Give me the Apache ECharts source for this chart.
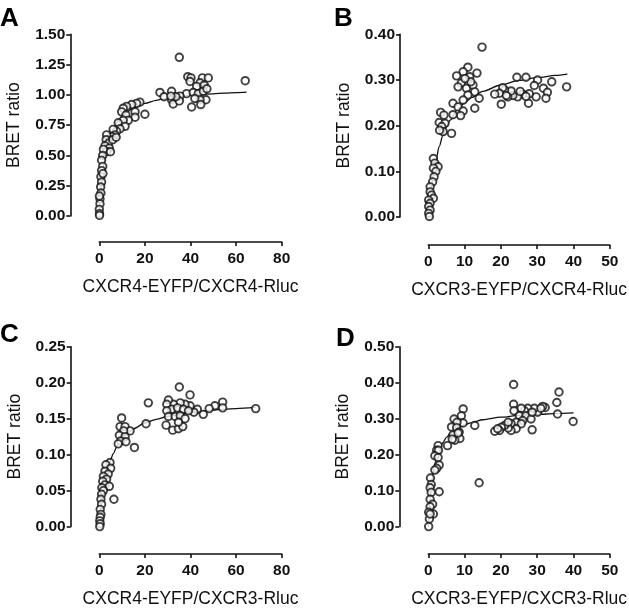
<!DOCTYPE html>
<html><head><meta charset="utf-8">
<script src="https://cdn.jsdelivr.net/npm/echarts@6/dist/echarts.min.js"></script>
<style>html,body{margin:0;padding:0;background:#fff}#c{width:629px;height:609px}</style>
</head><body><div id="c"></div>
<script>
// Panel A: CXCR4-EYFP / CXCR4-Rluc
const aX = [35.1, 64.0, 38.8, 40.2, 39.8, 45.2, 47.8, 44.2, 42.7, 46.0, 38.3, 41.2, 43.4, 45.6, 46.8, 44.2, 40.5, 44.5, 41.9, 47.2, 26.6, 28.4, 31.7, 31.7, 32.4, 35.4, 35.1, 33.6, 31.4, 17.8, 16.4, 20.0, 14.2, 12.0, 10.5, 9.8, 11.7, 15.7, 15.7, 12.7, 10.5, 8.3, 11.3, 9.1, 7.6, 6.1, 6.9, 5.4, 3.2, 3.0, 4.0, 2.5, 4.4, 3.2, 1.8, 4.9, 5.9, 7.4, 1.5, 1.0, 1.5, 1.0, 0.7, 1.0, 0.6, 0.7, 0.3, 0.3, 0.0, 0.1, 0.1, 1.6, 0.05];
const aY = [1.31, 1.117, 1.15, 1.14, 1.11, 1.14, 1.14, 1.10, 1.07, 1.08, 1.01, 1.02, 1.01, 1.03, 0.96, 0.96, 0.90, 0.92, 0.97, 1.05, 1.02, 0.985, 1.03, 0.96, 0.925, 0.99, 0.95, 0.985, 0.99, 0.94, 0.93, 0.84, 0.92, 0.905, 0.89, 0.86, 0.834, 0.86, 0.815, 0.79, 0.79, 0.77, 0.74, 0.72, 0.70, 0.715, 0.67, 0.655, 0.67, 0.63, 0.60, 0.58, 0.56, 0.53, 0.55, 0.53, 0.63, 0.65, 0.50, 0.46, 0.41, 0.375, 0.325, 0.28, 0.24, 0.19, 0.14, 0.10, 0.055, 0.02, 0.005, 0.35, 0.165];
const aFitX = [0, 0.5, 1, 1.5, 2, 3, 4, 5, 6, 8, 10, 12, 15, 20, 25, 30, 35, 40, 45, 50, 55, 60, 64.6];
const aFitY = [0, 0.153, 0.268, 0.357, 0.428, 0.535, 0.611, 0.669, 0.713, 0.778, 0.823, 0.856, 0.892, 0.930, 0.955, 0.973, 0.986, 0.995, 1.003, 1.009, 1.015, 1.019, 1.023];

// Panel B: CXCR3-EYFP / CXCR4-Rluc
const bX = [14.8, 38.1, 34.0, 24.4, 26.9, 30.1, 29.2, 31.7, 32.8, 32.4, 29.7, 27.6, 27.8, 26.0, 24.6, 23.3, 21.9, 22.8, 21.0, 20.5, 19.6, 18.3, 20.1, 25.3, 26.9, 21.5,
  10.9, 9.6, 7.8, 13.4, 11.4, 9.1, 8.2, 10.5, 12.3, 12.8, 10.9, 14.0, 9.6, 6.8, 8.2, 9.6, 8.9, 6.8, 12.8, 11.7, 10.1,
  3.4, 4.3, 3.0, 4.6, 3.7, 4.1, 6.4, 3.1,
  1.4, 1.8, 2.7, 1.4, 2.1, 1.6, 1.2, 0.5, 0.5, 0.9, 1.4, 0.1, 0.5, 0.1, 0.5, 0.1, 0.3];
const bY = [0.372, 0.285, 0.296, 0.306, 0.306, 0.30, 0.288, 0.282, 0.273, 0.26, 0.263, 0.249, 0.27, 0.269, 0.263, 0.266, 0.263, 0.276, 0.278, 0.283, 0.271, 0.269, 0.247, 0.275, 0.264, 0.266,
  0.328, 0.318, 0.309, 0.315, 0.307, 0.293, 0.285, 0.282, 0.289, 0.274, 0.267, 0.26, 0.256, 0.249, 0.241, 0.232, 0.222, 0.224, 0.238, 0.296, 0.303,
  0.229, 0.223, 0.207, 0.205, 0.198, 0.187, 0.183, 0.19,
  0.128, 0.118, 0.11, 0.107, 0.10, 0.088, 0.077, 0.066, 0.055, 0.048, 0.041, 0.037, 0.03, 0.023, 0.015, 0.008, 0.001];
const bFitX = [0, 0.5, 1, 1.5, 2, 3, 4, 5, 6, 8, 10, 12, 15, 20, 25, 30, 35, 38.3];
const bFitY = [0, 0.041, 0.073, 0.099, 0.120, 0.154, 0.178, 0.197, 0.212, 0.235, 0.250, 0.262, 0.275, 0.289, 0.299, 0.305, 0.310, 0.313];

// Panel C: CXCR4-EYFP / CXCR3-Rluc
const cX = [68.6, 35.1, 39.8, 21.5, 54.1, 54.1, 50.7, 48.2, 45.6, 43.0, 41.5, 39.8, 37.6, 35.5, 32.5, 30.3, 29.6, 31.8, 34.3, 36.9, 39.1, 29.6, 30.3, 33.3, 35.5, 37.6, 29.3, 32.2, 34.7, 36.6, 34.7,
  9.8, 9.1, 11.3, 13.5, 10.7, 8.8, 11.3, 9.4, 11.7, 8.3, 15.4, 20.5,
  4.7, 2.9, 5.0, 2.5, 3.9, 1.8, 3.2, 1.5, 2.5, 4.4, 1.1, 6.4, 1.8, 1.0, 0.7, 1.0, 0.4, 0.7, 0.4, 0.2, 0.4, 0.2];
const cY = [0.164, 0.194, 0.183, 0.172, 0.173, 0.165, 0.168, 0.164, 0.156, 0.163, 0.159, 0.168, 0.170, 0.172, 0.170, 0.176, 0.170, 0.163, 0.165, 0.163, 0.161, 0.161, 0.153, 0.153, 0.154, 0.150, 0.141, 0.134, 0.136, 0.139, 0.145,
  0.151, 0.139, 0.139, 0.133, 0.133, 0.127, 0.125, 0.119, 0.118, 0.115, 0.110, 0.143,
  0.089, 0.086, 0.081, 0.077, 0.073, 0.070, 0.066, 0.063, 0.058, 0.056, 0.054, 0.038, 0.050, 0.045, 0.038, 0.031, 0.024, 0.017, 0.013, 0.008, 0.004, 0.0];
const cFitX = [0, 0.5, 1, 1.5, 2, 3, 4, 5, 6, 8, 10, 12, 15, 20, 25, 30, 35, 40, 45, 50, 55, 60, 68.6];
const cFitY = [0, 0.018, 0.032, 0.044, 0.054, 0.070, 0.083, 0.093, 0.101, 0.113, 0.122, 0.128, 0.136, 0.144, 0.149, 0.153, 0.156, 0.159, 0.160, 0.162, 0.163, 0.164, 0.166];

// Panel D: CXCR3-EYFP / CXCR3-Rluc
const dX = [23.5, 36.0, 35.4, 39.9, 35.6, 32.2, 31.5, 30.1, 29.2, 27.4, 26.5, 25.6, 23.5, 23.6, 25.1, 26.9, 28.3, 26.0, 24.2, 22.8, 25.6, 28.6, 24.2, 22.8, 22.0, 21.0, 20.1, 19.6, 18.3, 19.1, 22.0, 28.6, 31.0, 14.0, 12.8,
  9.6, 9.1, 9.6, 7.1, 7.9, 6.4, 7.8, 8.5, 6.8, 8.7, 7.3, 6.6, 5.3, 8.2,
  2.7, 2.3, 2.8, 1.8, 2.7, 3.0, 2.3, 1.8, 0.6, 0.8, 0.5, 3.0, 0.8, 0.5, 1.2, 0.5, 1.4, 0.1, 0.3, 0.1, 0.5];
const dY = [0.395, 0.374, 0.345, 0.292, 0.313, 0.331, 0.334, 0.318, 0.329, 0.329, 0.322, 0.329, 0.340, 0.322, 0.308, 0.308, 0.299, 0.295, 0.290, 0.286, 0.286, 0.269, 0.272, 0.267, 0.274, 0.281, 0.276, 0.267, 0.265, 0.272, 0.290, 0.318, 0.329, 0.122, 0.281,
  0.327, 0.308, 0.288, 0.299, 0.29, 0.277, 0.275, 0.263, 0.255, 0.245, 0.24, 0.243, 0.225, 0.26,
  0.225, 0.212, 0.212, 0.197, 0.192, 0.171, 0.162, 0.157, 0.135, 0.117, 0.108, 0.097, 0.095, 0.076, 0.062, 0.055, 0.035, 0.04, 0.021, 0.0, 0.035];
const dFitX = [0, 0.25, 0.5, 1, 1.5, 2, 3, 4, 5, 6, 8, 10, 12, 15, 20, 25, 30, 35, 40];
const dFitY = [0, 0.044, 0.077, 0.125, 0.157, 0.181, 0.213, 0.233, 0.248, 0.258, 0.273, 0.283, 0.289, 0.297, 0.304, 0.309, 0.312, 0.314, 0.316];

const panelLetters = ['A', 'B', 'C', 'D'];
const xTitles = ['CXCR4-EYFP/CXCR4-Rluc', 'CXCR3-EYFP/CXCR4-Rluc', 'CXCR4-EYFP/CXCR3-Rluc', 'CXCR3-EYFP/CXCR3-Rluc'];
const yTitle = 'BRET ratio';
const xMaxes = [80, 50, 80, 50];
const xSteps = [20, 10, 20, 10];
const yMaxes = [1.5, 0.4, 0.25, 0.5];
const ySteps = [0.25, 0.1, 0.05, 0.1];

const FONT = '"Liberation Sans", Arial, Helvetica, sans-serif';
const INK = '#111';
const panels = [
  {pts: [aX, aY], fit: [aFitX, aFitY], grid: {left: 99.3, top: 34.3, width: 182.4, height: 181.7}, xOff: 26, yOff: 29, letter: [0, 20.5], yDec: 2},
  {pts: [bX, bY], fit: [bFitX, bFitY], grid: {left: 428.3, top: 34.3, width: 182.7, height: 182.7}, xOff: 28, yOff: 28.3, letter: [334, 20.5], yDec: 2},
  {pts: [cX, cY], fit: [cFitX, cFitY], grid: {left: 99.3, top: 346.7, width: 182.4, height: 182.6}, xOff: 27.4, yOff: 28.6, letter: [0, 337], yDec: 2},
  {pts: [dX, dY], fit: [dFitX, dFitY], grid: {left: 428.3, top: 346.7, width: 182.7, height: 182.6}, xOff: 27.4, yOff: 29, letter: [336, 341], yDec: 2}
];

const zip = (xs, ys) => xs.map((x, i) => [x, ys[i]]);
const axisCommon = {
  axisLine: {show: true, onZero: false, lineStyle: {color: INK, width: 1.6}},
  axisTick: {show: true, length: 4, lineStyle: {color: INK, width: 1.6}},
  splitLine: {show: false}
};

const grids = [], xAxes = [], yAxes = [], series = [], graphics = [];
panels.forEach((p, i) => {
  grids.push(Object.assign({containLabel: false}, p.grid));
  xAxes.push(Object.assign({}, axisCommon, {
    type: 'value', gridIndex: i, min: 0, max: xMaxes[i], interval: xSteps[i], offset: p.xOff,
    name: xTitles[i], nameLocation: 'middle', nameGap: 36,
    nameTextStyle: {fontFamily: FONT, fontSize: 17.5, color: INK},
    axisLabel: {fontFamily: FONT, fontSize: 15.5, fontWeight: 'bold', color: INK, margin: 9}
  }));
  yAxes.push(Object.assign({}, axisCommon, {
    type: 'value', gridIndex: i, min: 0, max: yMaxes[i], interval: ySteps[i], offset: p.yOff,
    name: yTitle, nameLocation: 'middle', nameGap: 47, nameRotate: 90,
    nameTextStyle: {fontFamily: FONT, fontSize: 17.5, color: INK},
    axisLabel: {fontFamily: FONT, fontSize: 15.5, fontWeight: 'bold', color: INK, margin: 5,
      formatter: v => v.toFixed(p.yDec)}
  }));
  series.push({
    type: 'line', xAxisIndex: i, yAxisIndex: i, data: zip(p.fit[0], p.fit[1]),
    showSymbol: false, smooth: 0.3, smoothMonotone: 'x', clip: false, z: 2,
    lineStyle: {color: INK, width: 1.3}, silent: true
  });
  series.push({
    type: 'scatter', xAxisIndex: i, yAxisIndex: i, data: zip(p.pts[0], p.pts[1]),
    symbol: 'circle', symbolSize: 7.5, clip: false, z: 3,
    itemStyle: {color: '#fff', borderColor: INK, borderWidth: 1.9}, silent: true
  });
  graphics.push({
    type: 'text', left: p.letter[0], top: p.letter[1] - 15,
    style: {text: panelLetters[i], fontFamily: FONT, fontSize: 26, fontWeight: 'bold', fill: '#000'}
  });
});

const chart = echarts.init(document.getElementById('c'), null, {renderer: 'canvas'});
chart.setOption({
  animation: false,
  backgroundColor: '#fff',
  grid: grids, xAxis: xAxes, yAxis: yAxes, series: series, graphic: graphics
});
</script></body></html>
